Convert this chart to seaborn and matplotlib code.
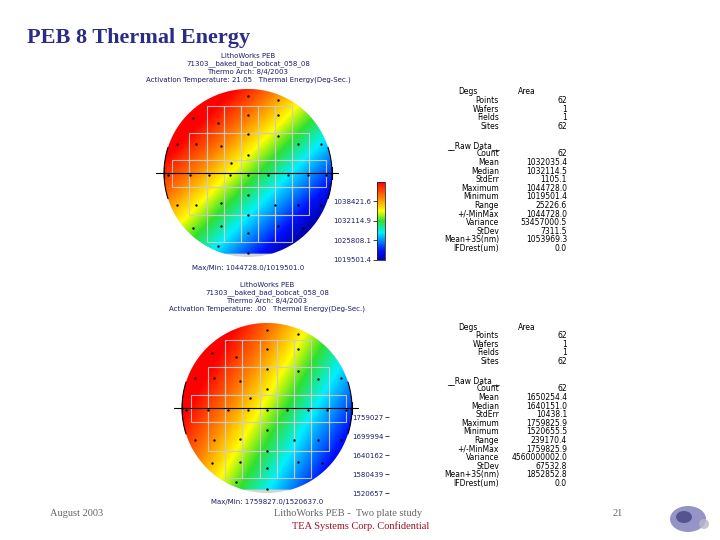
import matplotlib

matplotlib.use("Agg")
import matplotlib.pyplot as plt
import numpy as np
import seaborn as sns
from matplotlib.colors import LinearSegmentedColormap
from matplotlib.patches import Arc, Circle, Ellipse, Polygon, Rectangle

sns.set_theme(style="white")
plt.rcParams["font.family"] = ["DejaVu Sans"]

W, H = 720, 540

# coarse thermal-energy field (rows top -> bottom, x = -R, 0, +R)
top_grid = [[1053002, 1043189, 1033376],
            [1043189, 1033376, 1023563],
            [1033376, 1023563, 1013749]]
bottom_grid = [[1827512, 1723952, 1620391],
               [1767720, 1664159, 1560598],
               [1707927, 1604367, 1500806]]

top_range = (1019501.4, 1044728.0)
bottom_range = (1520657.0, 1759827.0)

top_ticks = [1019501.4, 1025808.1, 1032114.9, 1038421.6]
top_tick_labels = ["1019501.4", "1025808.1", "1032114.9", "1038421.6"]
bottom_ticks = [1520657, 1580439, 1640162, 1699994, 1759027]
bottom_tick_labels = ["1520657", "1580439", "1640162", "1699994", "1759027"]

# measurement sites (mm, wafer radius 100)
site_x = [0, 36, -65, -36, 0, 36, -85, -62, -32, 0, 36, 60, 87, 0, -20,
          -95, -69, -46, -22, 0, 24, 48, 71, 93,
          -85, -62, -32, 0, 32, 60, 87, 0, -32, 0, -65, 36, 65, -36, 0]
site_y = [92, 87, 65, 60, 69, 69, 35, 35, 32, 46, 44, 34, 35, 22, 12,
          -2, -2, -2, -2, -2, -2, -2, -2, -2,
          -38, -38, -36, -26, -38, -38, -38, -50, -63, -71, -65, -63, -65, -87, -95]

top_header = ["LithoWorks PEB", "71303__baked_bad_bobcat_058_08", "Thermo Arch: 8/4/2003",
              "Activation Temperature: 21.05   Thermal Energy(Deg-Sec.)"]
bottom_header = ["LithoWorks PEB", "71303__baked_bad_bobcat_058_08", "Thermo Arch: 8/4/2003",
                 "Activation Temperature: .00   Thermal Energy(Deg-Sec.)"]
top_maxmin = "Max/Min: 1044728.0/1019501.0"
bottom_maxmin = "Max/Min: 1759827.0/1520637.0"

summary_labels = ["Points", "Wafers", "Fields", "Sites"]
summary_values = ["62", "1", "1", "62"]
raw_labels = ["Count", "Mean", "Median", "StdErr", "Maximum", "Minimum", "Range",
              "+/-MinMax", "Variance", "StDev", "Mean+3S(nm)", "IFDrest(um)"]
top_raw_values = ["62", "1032035.4", "1032114.5", "1105.1", "1044728.0", "1019501.4",
                  "25226.6", "1044728.0", "53457000.5", "7311.5", "1053969.3", "0.0"]
bottom_raw_values = ["62", "1650254.4", "1640151.0", "10438.1", "1759825.9", "1520655.5",
                     "239170.4", "1759825.9", "4560000002.0", "67532.8", "1852852.8", "0.0"]

navy = "#1c1c6a"
rainbow = LinearSegmentedColormap.from_list(
    "wafer",
    [(0.0, "#0000a8"), (0.12, "#0010ff"), (0.35, "#00f0ff"), (0.5, "#30e030"),
     (0.63, "#ffff00"), (0.8, "#ff8000"), (1.0, "#ff0000")])


def fx(x):
    return x / W


def fy(y):
    return 1 - y / H


def draw_wafer(fig, cx, cy, r, grid, vrange, header, header_ys, maxmin, maxmin_y):
    ax = fig.add_axes([fx(cx - 1.2 * r), fy(cy + 1.2 * r), 2.4 * r / W, 2.4 * r / H])
    ax.set_xlim(-120, 120)
    ax.set_ylim(-120, 120)
    ax.set_aspect("equal")
    ax.axis("off")

    ax.add_patch(Circle((0, 0), 100, fc="#d4d4d4", ec="none", zorder=0))
    theta = np.linspace(0, 2 * np.pi, 400)
    outline = np.column_stack([100 * np.cos(theta), np.maximum(100 * np.sin(theta), -96)])
    clip = Polygon(outline, closed=True, transform=ax.transData, fc="none", ec="none")
    ax.add_patch(clip)
    im = ax.imshow(np.array(grid, dtype=float), cmap=rainbow, vmin=vrange[0], vmax=vrange[1],
                   extent=(-150, 150, -150, 150), origin="upper",
                   interpolation="bilinear", interpolation_stage="data", zorder=1)
    im.set_clip_path(clip)

    # die grid
    col_edges = [-90 + 20.3 * k for k in range(10)]
    rows = [(80, 48, 2, 7), (48, 15.5, 1, 8), (15.5, -17, 0, 9), (-17, -50, 1, 8), (-50, -82, 2, 7)]
    for top, bot, c0, c1 in rows:
        for c in range(c0, c1):
            ax.add_patch(Rectangle((col_edges[c], bot), col_edges[c + 1] - col_edges[c], top - bot,
                                   fc="none", ec="#cccccc", lw=0.8, alpha=0.9, zorder=3))

    sns.scatterplot(x=site_x, y=site_y, ax=ax, color="black", s=3, linewidth=0, zorder=4, legend=False)

    ax.plot([-110, 107], [0, 0], color="black", lw=0.8, zorder=5)
    for xe in (-100, 100):
        ax.plot([xe, xe], [-7, 7], color="black", lw=0.8, zorder=5)
    ax.add_patch(Arc((0, 0), 200, 200, theta1=-18, theta2=18, color="black", lw=0.8, zorder=5))
    ax.add_patch(Arc((0, 0), 200, 200, theta1=162, theta2=198, color="black", lw=0.8, zorder=5))

    for line, y in zip(header, header_ys):
        fig.text(fx(cx), fy(y), line, ha="center", va="center", fontsize=5, color=navy)
    fig.text(fx(cx), fy(maxmin_y), maxmin, ha="center", va="center", fontsize=5, color=navy)
    return im


def draw_stats(fig, y0, values):
    fig.text(fx(458), fy(y0), "Degs", fontsize=5.5, va="center", color="black")
    fig.text(fx(518), fy(y0), "Area", fontsize=5.5, va="center", color="black")
    step = 8.6
    for i, (lab, val) in enumerate(zip(summary_labels, summary_values)):
        y = y0 + step * (i + 1)
        fig.text(fx(499), fy(y), lab, fontsize=5.5, ha="right", va="center", color="black")
        fig.text(fx(567), fy(y), val, fontsize=5.5, ha="right", va="center", color="black")
    yr = y0 + step * 6.2
    fig.text(fx(447), fy(yr), "__Raw Data__", fontsize=5.5, va="center", color="black")
    for i, (lab, val) in enumerate(zip(raw_labels, values)):
        y = yr + step * (i + 1)
        fig.text(fx(499), fy(y), lab, fontsize=5.5, ha="right", va="center", color="black")
        fig.text(fx(567), fy(y), val, fontsize=5.5, ha="right", va="center", color="black")


fig = plt.figure(figsize=(7.2, 5.4), dpi=100)
fig.patch.set_facecolor("white")

fig.text(fx(27), fy(38), "PEB 8 Thermal Energy", fontsize=16, fontweight="bold",
         family=["Liberation Serif", "DejaVu Serif"], color="#2b2b88", va="center")

im_top = draw_wafer(fig, 248, 173, 84, top_grid, top_range, top_header,
                    [56, 64, 72, 80], top_maxmin, 268)
im_bot = draw_wafer(fig, 267, 408, 85, bottom_grid, bottom_range, bottom_header,
                    [285, 293, 301, 309], bottom_maxmin, 502)

cax_top = fig.add_axes([fx(377), fy(260), 8 / W, 78 / H])
cb_top = fig.colorbar(im_top, cax=cax_top, ticks=top_ticks)
cb_top.set_ticklabels(top_tick_labels)
cax_top.yaxis.set_ticks_position("left")
cax_top.tick_params(labelsize=5, labelcolor=navy, length=3, width=0.6, pad=1)
cb_top.outline.set_linewidth(0.6)

cax_bot = fig.add_axes([fx(389), fy(493), 8 / W, 76 / H])
cb_bot = fig.colorbar(im_bot, cax=cax_bot, ticks=bottom_ticks)
cb_bot.set_ticklabels(bottom_tick_labels)
cb_bot.solids.set_visible(False)
cb_bot.outline.set_visible(False)
cax_bot.yaxis.set_ticks_position("left")
cax_bot.tick_params(labelsize=5, labelcolor=navy, length=3, width=0.6, pad=1)

draw_stats(fig, 92, top_raw_values)
draw_stats(fig, 327, bottom_raw_values)

serif = ["Liberation Serif", "DejaVu Serif"]
fig.text(fx(50), fy(514), "August 2003", fontsize=7.5, family=serif, color="#666666", va="center")
fig.text(fx(348), fy(514), "LithoWorks PEB -  Two plate study", fontsize=7.5, family=serif,
         color="#666666", ha="center", va="center")
fig.text(fx(361), fy(526), "TEA Systems Corp. Confidential", fontsize=7.5, family=serif,
         color="#9a1020", ha="center", va="center")
fig.text(fx(618), fy(514), "21", fontsize=7.5, family=serif, color="#666666", ha="center", va="center")

logo = fig.add_axes([fx(666), fy(536), 48 / W, 34 / H])
logo.set_xlim(0, 48)
logo.set_ylim(0, 34)
logo.axis("off")
logo.add_patch(Ellipse((22, 17), 36, 26, fc="#7a7ab8", ec="none", alpha=0.8))
logo.add_patch(Ellipse((18, 19), 16, 12, fc="#2a2a6a", ec="none", alpha=0.6))
logo.add_patch(Ellipse((38, 12), 10, 10, fc="#b8b8c8", ec="none", alpha=0.8))

fig.savefig("out.png", dpi=100, facecolor="white")
plt.close(fig)
